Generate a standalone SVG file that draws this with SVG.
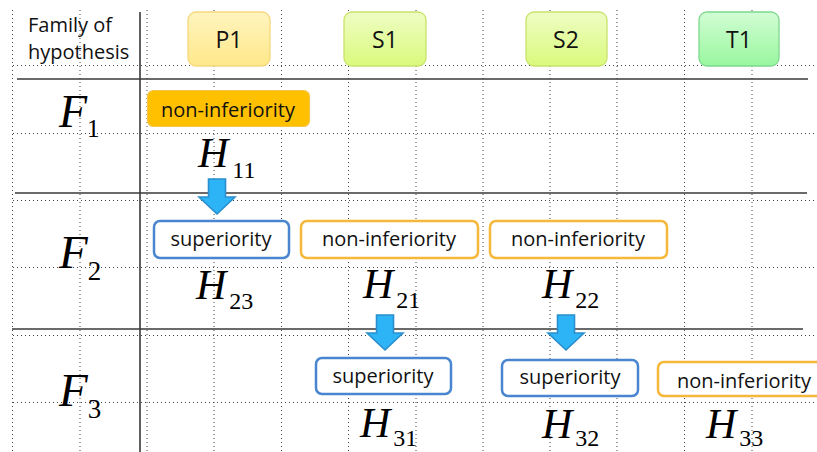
<svg xmlns="http://www.w3.org/2000/svg" width="817" height="452" viewBox="0 0 817 452">
<defs>
<linearGradient id="gP" x1="0" y1="0" x2="0" y2="1"><stop offset="0" stop-color="#FFF4BE"/><stop offset="1" stop-color="#FFE88A"/></linearGradient>
<linearGradient id="gS" x1="0" y1="0" x2="0" y2="1"><stop offset="0" stop-color="#EEFDC4"/><stop offset="1" stop-color="#DAFA7C"/></linearGradient>
<linearGradient id="gT" x1="0" y1="0" x2="0" y2="1"><stop offset="0" stop-color="#D2FDD4"/><stop offset="1" stop-color="#98F79E"/></linearGradient>
<path id="arr" d="M-8.5,0 H8.5 V18 H18 L0,35 L-18,18 H-8.5 Z"/>
</defs>
<style>
.dot{stroke:#444;stroke-width:1;stroke-dasharray:1 3;fill:none}
.solid{stroke:#3a3a3a;stroke-width:1.6;fill:none}
.lbl{font-family:"Open Sans","Liberation Sans",sans-serif;font-size:20px;fill:#111}
.big{font-size:23px}
.mid{text-anchor:middle}
.math{font-family:"Liberation Serif","Times New Roman",serif;fill:#000}
.it{font-style:italic}
.sub{font-style:normal}
.hdr{stroke-width:1.3}
.blue{fill:#fff;stroke:#4A86D0;stroke-width:2.5}
.orng{fill:#fff;stroke:#F5B83A;stroke-width:2.5}
.arrow{fill:#2DB4F6;stroke:#2A8ECC;stroke-width:1.6}
</style>
<rect width="817" height="452" fill="#fff"/>
<g id="grid">
<g class="dot">
<path d="M12.5,10V452M80,10V452M147,10V452M214,10V452M281.5,10V452M348.5,10V452M416,10V452M483,10V452M550,10V452M617,10V452M684.5,10V452M752,10V452"/>
<path d="M13,65.5H817M13,133.5H817M13,200.5H817M13,267.5H817M13,335.5H817M13,402.5H817"/>
</g>
<g class="solid">
<path d="M17,79H808M15,193H807M12,329H803M140,12V452"/>
</g>
</g>
<g id="corner"><text class="lbl" x="28" y="32">Family of</text><text class="lbl" x="28" y="59">hypothesis</text></g>
<g id="P1"><rect class="hdr" x="188" y="12" width="82" height="54" rx="8" fill="url(#gP)" stroke="#F6D77C"/><text class="lbl big mid" x="229" y="48">P1</text></g>
<g id="S1"><rect class="hdr" x="344" y="12" width="82" height="54" rx="8" fill="url(#gS)" stroke="#C9E26C"/><text class="lbl big mid" x="385" y="48">S1</text></g>
<g id="S2"><rect class="hdr" x="526" y="12" width="81" height="54" rx="8" fill="url(#gS)" stroke="#C9E26C"/><text class="lbl big mid" x="566" y="48">S2</text></g>
<g id="T1"><rect class="hdr" x="699" y="12" width="80" height="54" rx="8" fill="url(#gT)" stroke="#7ED88E"/><text class="lbl big mid" x="739" y="48">T1</text></g>
<g id="F1"><text class="math it" x="59" y="127" font-size="46">F<tspan class="sub" font-size="25" dy="10">1</tspan></text></g>
<g id="F2"><text class="math it" x="59" y="268" font-size="47">F<tspan class="sub" font-size="27" dy="12">2</tspan></text></g>
<g id="F3"><text class="math it" x="59" y="406" font-size="47">F<tspan class="sub" font-size="27" dy="12">3</tspan></text></g>
<g id="H11"><rect x="147.5" y="90.5" width="162" height="36" rx="6" fill="#FFC000" stroke="#F7C54A" stroke-width="1.2"/><text class="lbl mid" x="228" y="117">non-inferiority</text><text class="math it" x="198" y="167" font-size="42">H<tspan class="sub" font-size="24" dy="11" dx="4">11</tspan></text></g>
<g id="H23"><rect class="blue" x="154" y="221" width="135" height="37" rx="6"/><text class="lbl mid" x="221" y="246">superiority</text><text class="math it" x="196" y="299" font-size="42">H<tspan class="sub" font-size="24" dy="10" dx="3">23</tspan></text></g>
<g id="H21"><rect class="orng" x="301" y="221" width="177" height="37" rx="6"/><text class="lbl mid" x="389" y="246">non-inferiority</text><text class="math it" x="363" y="298" font-size="42">H<tspan class="sub" font-size="24" dy="10" dx="3">21</tspan></text></g>
<g id="H22"><rect class="orng" x="490" y="221" width="177" height="37" rx="6"/><text class="lbl mid" x="578" y="246">non-inferiority</text><text class="math it" x="542" y="298" font-size="42">H<tspan class="sub" font-size="24" dy="10" dx="3">22</tspan></text></g>
<g id="H31"><rect class="blue" x="316" y="358" width="135" height="36" rx="6"/><text class="lbl mid" x="383" y="383">superiority</text><text class="math it" x="360" y="437" font-size="42">H<tspan class="sub" font-size="24" dy="9" dx="3">31</tspan></text></g>
<g id="H32"><rect class="blue" x="502" y="360" width="136" height="36" rx="6"/><text class="lbl mid" x="570" y="384">superiority</text><text class="math it" x="542" y="438" font-size="42">H<tspan class="sub" font-size="24" dy="8" dx="3">32</tspan></text></g>
<g id="H33"><rect class="orng" x="658" y="362" width="180" height="34" rx="6"/><text class="lbl" x="677" y="388">non-inferiority</text><text class="math it" x="706" y="438" font-size="42">H<tspan class="sub" font-size="24" dy="8" dx="3">33</tspan></text></g>
<g id="connectors">
<use href="#arr" class="arrow" x="217" y="179"/>
<use href="#arr" class="arrow" x="385" y="315"/>
<use href="#arr" class="arrow" x="566" y="315"/>
</g>
</svg>
